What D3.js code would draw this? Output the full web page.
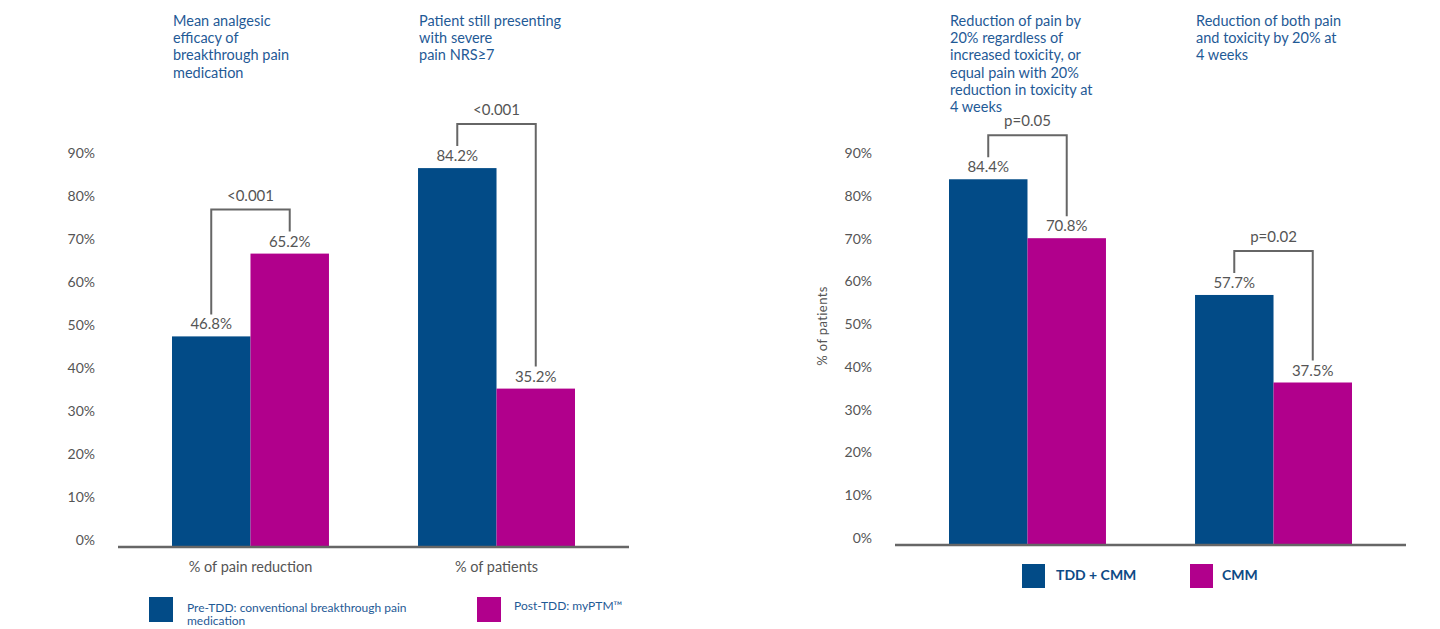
<!DOCTYPE html>
<html>
<head>
<meta charset="utf-8">
<script src="https://cdn.jsdelivr.net/npm/d3@7"></script>
<style>
  body { margin: 0; background: #fff; }
  svg { font-family: Lato, "Open Sans", sans-serif; }
  .title { fill: #1f5a96; font-size: 14.5px; }
  .tick-label { fill: #555; font-size: 14px; }
  .value { fill: #555; font-size: 15px; text-anchor: middle; }
  .pval { fill: #555; font-size: 15px; text-anchor: middle; }
  .cat { fill: #555; font-size: 14.5px; text-anchor: middle; }
  .bracket { fill: none; stroke: #666; stroke-width: 2; }
  .baseline { stroke: #666; stroke-width: 2.5; }
</style>
</head>
<body>
<svg id="chart" width="1440" height="629"></svg>
<script>
const BLUE = "#024b87";
const MAGENTA = "#b1008c";

const yTicks = [0, 10, 20, 30, 40, 50, 60, 70, 80, 90];

// left panel
const leftCategories = ["% of pain reduction", "% of patients"];
const leftTitles = [
    ["Mean analgesic", "efficacy of", "breakthrough pain", "medication"],
    ["Patient still presenting", "with severe", "pain NRS≥7"]
];
const leftPre = [46.8, 84.2];
const leftPost = [65.2, 35.2];
const leftP = ["<0.001", "<0.001"];
const leftLegend = [["Pre-TDD: conventional breakthrough pain", "medication"], ["Post-TDD: myPTM™"]];

// right panel
const rightCategories = ["pain20", "both20"];
const rightTitles = [
    ["Reduction of pain by", "20% regardless of", "increased toxicity, or", "equal pain with 20%", "reduction in toxicity at", "4 weeks"],
    ["Reduction of both pain", "and toxicity by 20% at", "4 weeks"]
];
const rightTdd = [84.4, 57.7];
const rightCmm = [70.8, 37.5];
const rightP = ["p=0.05", "p=0.02"];
const rightLegend = ["TDD + CMM", "CMM"];

const svg = d3.select("#chart");

function drawPanel(opt) {
    const g = svg.append("g");
    const x = d3.scaleBand().domain(opt.categories).range([opt.x0, opt.x1])
        .paddingInner(0.362).paddingOuter(0.2195);
    const sub = d3.scaleBand().domain([0, 1]).range([0, x.bandwidth()]);
    const y = d3.scaleLinear().domain([0, 90]).range([opt.base, opt.base - opt.span]);
    const yLab = d3.scaleLinear().domain([0, 90]).range([opt.base - 7, 153]);

    // tick labels
    const axis = g.append("g")
        .attr("transform", `translate(${opt.tickX},0)`)
        .call(d3.axisLeft(yLab).tickValues(yTicks).tickSize(0).tickPadding(0).tickFormat(d => d + "%"));
    axis.select(".domain").remove();
    axis.selectAll("text").attr("class", "tick-label").attr("fill", null)
        .style("font-size", "14px").style("font-family", "Lato, 'Open Sans', sans-serif");

    const rows = opt.categories.map((c, i) => ({ c, i, vals: [opt.a[i], opt.b[i]] }));

    rows.forEach(r => {
        r.vals.forEach((v, k) => {
            g.append("rect")
                .attr("x", x(r.c) + sub(k))
                .attr("y", y(v))
                .attr("width", sub.bandwidth())
                .attr("height", y(0) - y(v))
                .attr("fill", k === 0 ? BLUE : MAGENTA);
            g.append("text").attr("class", "value")
                .attr("x", x(r.c) + sub(k) + sub.bandwidth() / 2)
                .attr("y", y(v) - 7)
                .text(v.toFixed(1) + "%");
        });

        // significance bracket
        const xa = x(r.c) + sub(0) + sub.bandwidth() / 2;
        const xb = x(r.c) + sub(1) + sub.bandwidth() / 2;
        const ya = y(r.vals[0]) - 22, yb = y(r.vals[1]) - 22;
        const top = Math.min(y(r.vals[0]), y(r.vals[1])) - 44;
        g.append("path").attr("class", "bracket")
            .attr("d", `M${xa},${ya} V${top} H${xb} V${yb}`);
        g.append("text").attr("class", "pval")
            .attr("x", (xa + xb) / 2).attr("y", top - 9)
            .text(opt.p[r.i]);

        // title above group
        g.append("text").attr("class", "title")
            .selectAll("tspan").data(opt.titles[r.i]).join("tspan")
            .attr("x", x(r.c) + 1)
            .attr("y", (d, j) => 26 + j * 17.2)
            .text(d => d);

        if (opt.showCats) {
            g.append("text").attr("class", "cat")
                .attr("x", x(r.c) + x.bandwidth() / 2).attr("y", 572)
                .text(r.c);
        }
    });

    g.append("line").attr("class", "baseline")
        .attr("x1", opt.x0).attr("x2", opt.x1)
        .attr("y1", opt.base).attr("y2", opt.base);

    return g;
}

drawPanel({
    categories: leftCategories, titles: leftTitles, a: leftPre, b: leftPost, p: leftP,
    x0: 118, x1: 629, base: 547, span: 405, tickX: 95, showCats: true
});

const right = drawPanel({
    categories: rightCategories, titles: rightTitles, a: rightTdd, b: rightCmm, p: rightP,
    x0: 895, x1: 1406, base: 545, span: 390, tickX: 872, showCats: false
});

right.append("text")
    .attr("transform", "translate(827,326) rotate(-90)")
    .attr("text-anchor", "middle")
    .attr("fill", "#555").style("font-size", "13px")
    .style("letter-spacing", "0.4px")
    .text("% of patients");

// left legend
const ll = svg.append("g");
[[149, BLUE, 187], [477, MAGENTA, 514]].forEach((d, i) => {
    ll.append("rect").attr("x", d[0]).attr("y", 597).attr("width", 24).attr("height", 25).attr("fill", d[1]);
    ll.append("text").attr("fill", "#1f5a96").style("font-size", "12px")
        .selectAll("tspan").data(leftLegend[i]).join("tspan")
        .attr("x", d[2]).attr("y", (t, j) => (i === 0 ? 612 : 610) + j * 13).text(t => t);
});

// right legend
const rl = svg.append("g");
[[1022, BLUE, 1056], [1190, MAGENTA, 1222]].forEach((d, i) => {
    rl.append("rect").attr("x", d[0]).attr("y", 564).attr("width", 23).attr("height", 24).attr("fill", d[1]);
    rl.append("text").attr("x", d[2]).attr("y", 580)
        .attr("fill", "#0d4a85").style("font-size", "14px").style("font-weight", "bold")
        .text(rightLegend[i]);
});
</script>
</body>
</html>
